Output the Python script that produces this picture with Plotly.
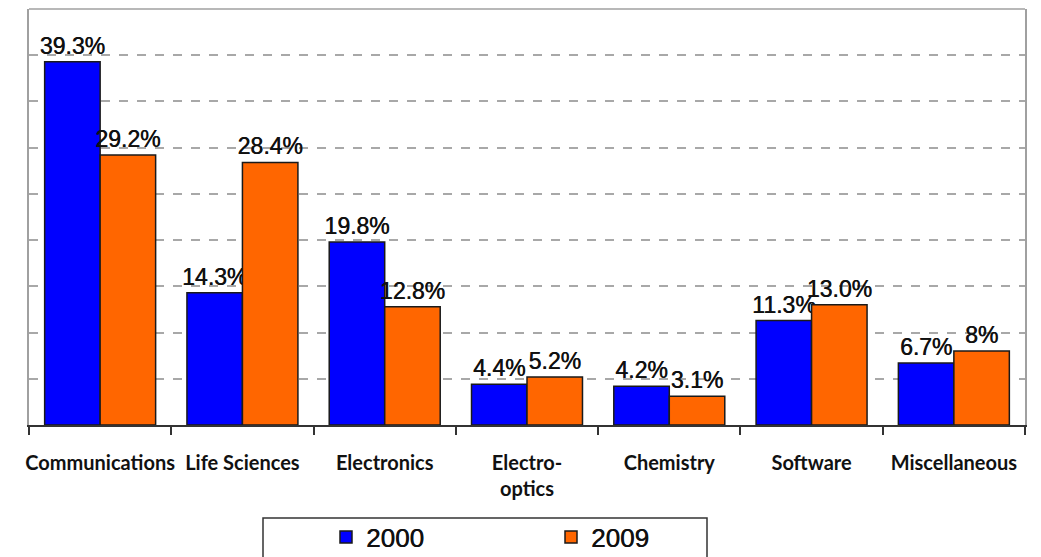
import plotly.graph_objects as go

categories = ["Communications", "Life Sciences", "Electronics", "Electro-<br>optics",
              "Chemistry", "Software", "Miscellaneous"]
values_2000 = [39.3, 14.3, 19.8, 4.4, 4.2, 11.3, 6.7]
values_2009 = [29.2, 28.4, 12.8, 5.2, 3.1, 13.0, 8.0]
labels_2000 = ["39.3%", "14.3%", "19.8%", "4.4%", "4.2%", "11.3%", "6.7%"]
labels_2009 = ["29.2%", "28.4%", "12.8%", "5.2%", "3.1%", "13.0%", "8%"]

label_font = dict(family="Liberation Sans, Arial", size=23, color="#111",
                  shadow="0.5px 0 0 #111")

fig = go.Figure()
fig.add_trace(go.Bar(
    name="2000", x=categories, y=values_2000, text=labels_2000,
    textposition="outside", textfont=label_font, cliponaxis=False,
    constraintext="none", textangle=0,
    marker=dict(color="#0000ff", line=dict(color="#1a1a1a", width=1.5)),
))
fig.add_trace(go.Bar(
    name="2009", x=categories, y=values_2009, text=labels_2009,
    textposition="outside", textfont=label_font, cliponaxis=False,
    constraintext="none", textangle=0,
    marker=dict(color="#ff6600", line=dict(color="#1a1a1a", width=1.5)),
))

# page has an 8px body margin; figure coordinates = page coordinates - 8
OFF = 8
W, H = 1041 - OFF, 557 - OFF
ml, mr, mt, mb = 29 - OFF, 16, 9 - OFF, 132
pw, ph = W - ml - mr, H - mt - mb

def px_x(x):
    return (x - OFF - ml) / pw

def px_y(y):
    return (H - mb - (y - OFF)) / ph

fig.update_layout(
    width=W, height=H,
    margin=dict(l=ml, r=mr, t=mt, b=mb, autoexpand=False),
    paper_bgcolor="white", plot_bgcolor="white",
    barmode="group", bargap=0.22, bargroupgap=0,
    showlegend=True,
    legend=dict(
        orientation="h", x=px_x(326), xanchor="left", y=px_y(537), yanchor="middle",
        font=dict(family="Liberation Sans, Arial", size=26, color="#111",
                  shadow="0.5px 0 0 #111"),
        entrywidth=180, entrywidthmode="pixels", bgcolor="rgba(0,0,0,0)",
        borderwidth=0,
    ),
    xaxis=dict(
        type="category", showline=True, linecolor="#333", linewidth=1.5,
        ticks="outside", tickson="boundaries", ticklen=8, tickcolor="#333", tickwidth=1.5,
        showgrid=False, ticklabelstandoff=19, tickangle=0, automargin=False,
        tickfont=dict(family="Lato", size=20, color="#111", weight="bold"),
    ),
    yaxis=dict(
        range=[0, 45], dtick=5, showticklabels=False, ticks="", automargin=False,
        showgrid=True, gridcolor="#a8a8a8", griddash="dash", gridwidth=1.5,
        showline=True, mirror=True, linecolor="#a0a0a0", linewidth=1.5,
        zeroline=False,
    ),
    shapes=[
        dict(type="line", xref="paper", yref="paper", x0=0, x1=1, y0=1, y1=1,
             line=dict(color="#a0a0a0", width=1.5)),
        dict(type="rect", xref="paper", yref="paper",
             x0=px_x(263), x1=px_x(707), y0=px_y(518), y1=px_y(600),
             line=dict(color="#333", width=1.5), fillcolor="rgba(0,0,0,0)"),
    ],
)

fig.write_html("out.html")
